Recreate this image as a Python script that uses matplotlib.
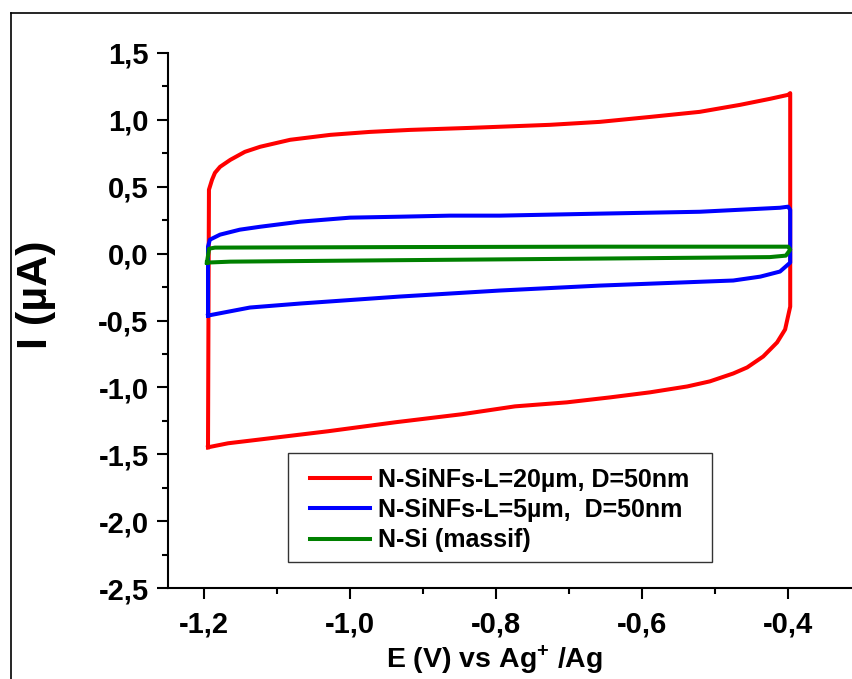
import matplotlib
matplotlib.use("Agg")
import matplotlib.pyplot as plt
from matplotlib.lines import Line2D
from matplotlib.patches import Rectangle
from matplotlib.ticker import MultipleLocator, FuncFormatter

plt.rcParams['font.family'] = ['Liberation Sans', 'DejaVu Sans']
plt.rcParams['font.weight'] = 'bold'
plt.rcParams['axes.labelweight'] = 'bold'
plt.rcParams['mathtext.fontset'] = 'custom'
plt.rcParams['mathtext.rm'] = 'Liberation Sans:bold'
plt.rcParams['mathtext.default'] = 'rm'

# cyclic voltammograms (closed loops)
E_red = [-1.1945, -1.1938, -1.1932, -1.189, -1.185, -1.178, -1.164, -1.144, -1.123,
         -1.082, -1.027, -0.973, -0.918, -0.836, -0.726, -0.658, -0.589, -0.521,
         -0.466, -0.425, -0.400, -0.397, -0.397, -0.397, -0.404, -0.415, -0.434,
         -0.456, -0.475, -0.507, -0.538, -0.589, -0.644, -0.703, -0.774, -0.847,
         -0.938, -1.030, -1.121, -1.167, -1.1945]
I_red = [-1.448, -0.343, 0.478, 0.552, 0.604, 0.649, 0.701, 0.761, 0.799,
         0.851, 0.888, 0.910, 0.925, 0.940, 0.963, 0.985, 1.022, 1.060,
         1.112, 1.157, 1.187, 1.200, 0.403, -0.396, -0.567, -0.664, -0.769,
         -0.851, -0.896, -0.955, -0.993, -1.037, -1.075, -1.112, -1.142, -1.201,
         -1.261, -1.328, -1.388, -1.418, -1.448]

E_blue = [-1.1945, -1.1945, -1.1945, -1.192, -1.178, -1.151, -1.123, -1.068, -1.000,
          -0.932, -0.863, -0.795, -0.658, -0.521, -0.411, -0.400, -0.397, -0.397,
          -0.411, -0.438, -0.475, -0.658, -0.795, -0.932, -1.068, -1.137, -1.1945]
I_blue = [-0.463, -0.045, 0.052, 0.104, 0.142, 0.179, 0.201, 0.239, 0.269,
          0.276, 0.284, 0.284, 0.299, 0.313, 0.343, 0.351, 0.328, -0.067,
          -0.134, -0.172, -0.201, -0.239, -0.276, -0.321, -0.373, -0.403, -0.463]

E_green = [-1.196, -1.193, -1.185, -0.932, -0.658, -0.400, -0.397, -0.403,
           -0.425, -0.658, -0.932, -1.164, -1.196]
I_green = [-0.067, 0.037, 0.045, 0.049, 0.052, 0.052, 0.030, -0.015,
           -0.026, -0.037, -0.049, -0.060, -0.067]

labels = ["N-SiNFs-L=20µm, D=50nm", "N-SiNFs-L=5µm,  D=50nm", "N-Si (massif)"]

fig = plt.figure(figsize=(8.53, 6.79), dpi=100)
ax = fig.add_axes([168 / 853, 1 - 588 / 679, 685 / 853, 535 / 679])

ax.plot(E_red, I_red, color='#ff0000', lw=2.9, label=labels[0])
ax.plot(E_blue, I_blue, color='#0000ff', lw=2.9, label=labels[1])
ax.plot(E_green, I_green, color='#008000', lw=2.9, label=labels[2])

ax.set_xlim(-1.2493, -0.311)
ax.set_ylim(-2.5, 1.5)
ax.spines['top'].set_visible(False)
ax.spines['right'].set_visible(False)
ax.spines['left'].set_linewidth(1.5)
ax.spines['bottom'].set_linewidth(1.5)

ax.xaxis.set_major_locator(MultipleLocator(0.2))
ax.xaxis.set_minor_locator(MultipleLocator(0.1))
ax.yaxis.set_major_locator(MultipleLocator(0.5))
ax.yaxis.set_minor_locator(MultipleLocator(0.25))
fmt = FuncFormatter(lambda v, p: ("%.1f" % v).replace('.', ',').replace('-0,0', '0,0'))
ax.xaxis.set_major_formatter(fmt)
ax.yaxis.set_major_formatter(fmt)
ax.tick_params(which='major', direction='out', length=8, width=1.5, labelsize=21)
ax.tick_params(which='minor', direction='out', length=4, width=1.5)
ax.tick_params(axis='x', pad=8)
ax.tick_params(axis='y', pad=6)

ax.set_xlabel(r"E (V) vs Ag$^{+}$ /Ag", fontsize=20.5)
ax.xaxis.set_label_coords(0.477, -0.104)
ax.set_ylabel("I (µA)", fontsize=31)
ax.yaxis.set_label_coords(-0.163, 0.548)

leg = ax.legend(loc='upper left', bbox_to_anchor=(0.2073, 0.2243), fontsize=18,
                frameon=False, borderpad=0, labelspacing=0.25,
                handlelength=2.4, handletextpad=0.3, borderaxespad=0)
ax.add_patch(Rectangle((0.1752, 0.0486), 0.619, 0.2037, transform=ax.transAxes,
                       fill=False, edgecolor='#333333', lw=1.0, zorder=5))

# outer frame of the figure
fx, fy = 11.5 / 853, 1 - 13 / 679
fig.add_artist(Line2D([fx, fx], [0, fy], color='black', lw=1.2, transform=fig.transFigure))
fig.add_artist(Line2D([fx, 1], [fy, fy], color='black', lw=1.2, transform=fig.transFigure))

fig.savefig("out.png", dpi=100)
